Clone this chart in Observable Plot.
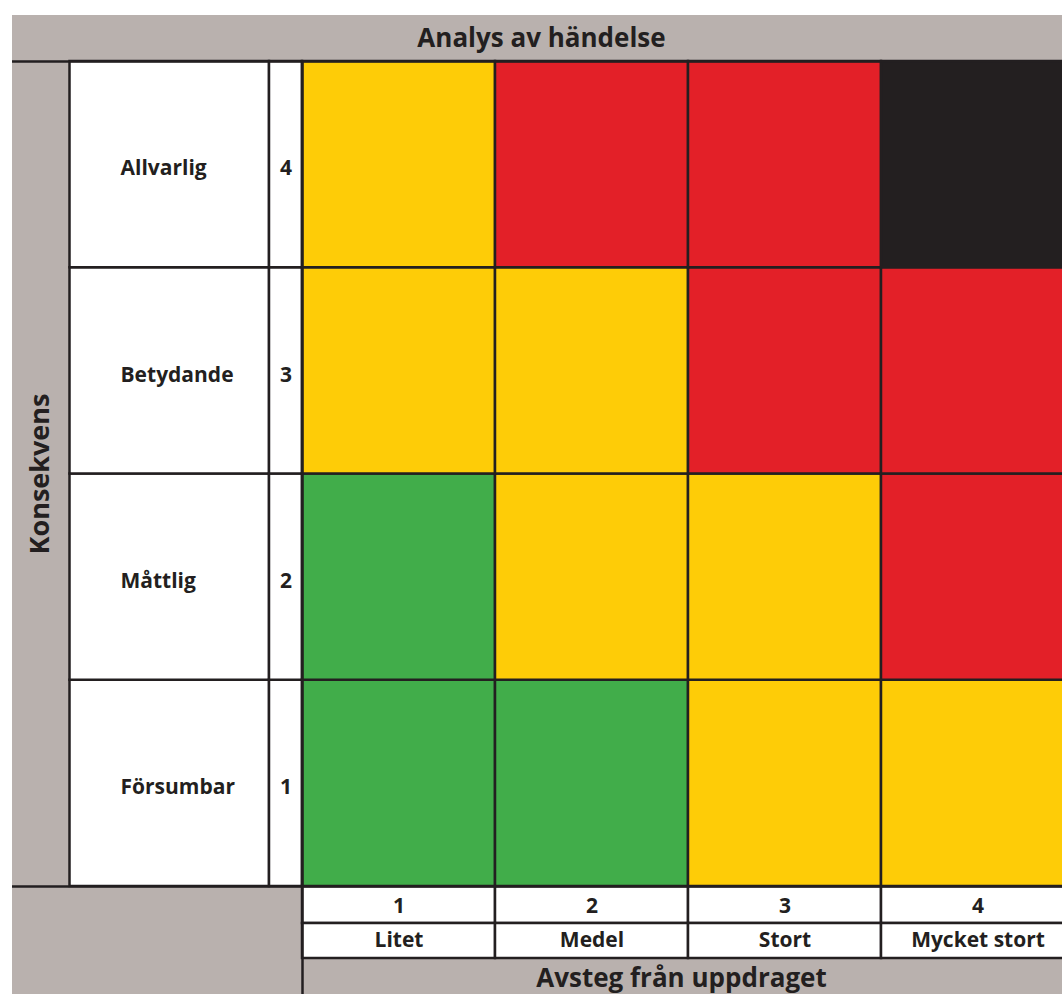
<!DOCTYPE html>
<html>
<head>
<meta charset="utf-8">
<script src="https://cdn.jsdelivr.net/npm/d3@7"></script>
<script src="https://cdn.jsdelivr.net/npm/@observablehq/plot@0.6"></script>
<style>
  html, body { margin: 0; padding: 0; background: #ffffff; overflow: hidden; }
  #chart svg { display: block; }
</style>
</head>
<body>
<div id="chart"></div>
<script>
// ---- Data ----
const chartTitle = "Analys av händelse";
const yTitle = "Konsekvens";
const xTitle = "Avsteg från uppdraget";
const consequenceLevels = [1, 2, 3, 4];
const consequenceLabels = ["Försumbar", "Måttlig", "Betydande", "Allvarlig"];
const deviationLevels = [1, 2, 3, 4];
const deviationLabels = ["Litet", "Medel", "Stort", "Mycket stort"];
// rows: consequence 1..4 (bottom to top); columns: deviation 1..4
const riskRow1 = ["Låg", "Låg", "Medel", "Medel"];
const riskRow2 = ["Låg", "Medel", "Medel", "Hög"];
const riskRow3 = ["Medel", "Medel", "Hög", "Hög"];
const riskRow4 = ["Medel", "Hög", "Hög", "Mycket hög"];
const riskLevels = ["Låg", "Medel", "Hög", "Mycket hög"];
const riskColors = ["#41ad4a", "#fecc07", "#e32028", "#231f20"];

// ---- Tables built from the arrays ----
const riskRows = [riskRow1, riskRow2, riskRow3, riskRow4];
const cells = [];
consequenceLevels.forEach((c, i) => deviationLevels.forEach((d, j) => cells.push({consequence: c, deviation: d, risk: riskRows[i][j]})));
const rows = consequenceLevels.map((c, i) => ({level: c, label: consequenceLabels[i]}));
const cols = deviationLevels.map((d, i) => ({level: d, label: deviationLabels[i]}));

// ---- Layout (pixels -> grid units) ----
const W = 1062, H = 994;
const GRID_LEFT = 302, CELL_W = 193;
const GRID_BOTTOM = 886, CELL_H = 206.25;
const ux = px => (px - GRID_LEFT) / CELL_W;
const uy = py => (GRID_BOTTOM - py) / CELL_H;

const GRAY = "#b9b1ae", INK = "#231f20", SW = 2.5;
const FONT = "'Open Sans', Lato, sans-serif";

const chart = Plot.plot({
  width: W,
  height: H,
  margin: 0,
  x: {type: "linear", domain: [ux(0), ux(W)], range: [0, W], axis: null},
  y: {type: "linear", domain: [uy(H), uy(0)], range: [H, 0], axis: null},
  color: {type: "ordinal", domain: riskLevels, range: riskColors},
  style: {background: "#ffffff", fontFamily: FONT},
  marks: [
    // gray backdrop
    Plot.rect([0], {x1: ux(12), x2: ux(W), y1: uy(H), y2: uy(15), fill: GRAY}),
    // row label boxes
    Plot.rect(rows, {x1: ux(69.5), x2: ux(269), y1: d => d.level - 1, y2: d => d.level, fill: "white", stroke: INK, strokeWidth: SW}),
    Plot.rect(rows, {x1: ux(269), x2: 0, y1: d => d.level - 1, y2: d => d.level, fill: "white", stroke: INK, strokeWidth: SW}),
    // column number / label boxes
    Plot.rect(cols, {x1: d => d.level - 1, x2: d => d.level, y1: uy(923), y2: 0, fill: "white", stroke: INK, strokeWidth: SW}),
    Plot.rect(cols, {x1: d => d.level - 1, x2: d => d.level, y1: uy(958), y2: uy(923), fill: "white", stroke: INK, strokeWidth: SW}),
    // risk cells
    Plot.rect(cells, {x1: d => d.deviation - 1, x2: d => d.deviation, y1: d => d.consequence - 1, y2: d => d.consequence, fill: "risk", stroke: INK, strokeWidth: SW}),
    // frame lines
    Plot.ruleY([consequenceLevels.length], {x1: ux(12), x2: ux(W), stroke: INK, strokeWidth: SW}),
    Plot.ruleY([0], {x1: ux(12), x2: ux(W), stroke: INK, strokeWidth: SW}),
    Plot.ruleX([0], {y1: uy(H), y2: consequenceLevels.length, stroke: INK, strokeWidth: SW}),
    // titles
    Plot.text([chartTitle], {text: d => d, x: ux(541), y: uy(38), fontSize: 26, fontWeight: 700, fill: INK}),
    Plot.text([yTitle], {text: d => d, x: ux(40), y: consequenceLevels.length / 2, rotate: -90, fontSize: 27, fontWeight: 700, fill: INK}),
    Plot.text([xTitle], {text: d => d, x: ux(681), y: uy(978), fontSize: 26, fontWeight: 700, fill: INK}),
    // row labels
    Plot.text(rows, {text: "label", x: ux(120), y: d => d.level - 0.5, dy: 4, textAnchor: "start", fontSize: 21, fontWeight: 700, fill: INK}),
    Plot.text(rows, {text: d => String(d.level), x: ux(285.5), y: d => d.level - 0.5, dy: 4, fontSize: 21, fontWeight: 700, fill: INK}),
    // column labels
    Plot.text(cols, {text: d => String(d.level), x: d => d.level - 0.5, y: uy(906), fontSize: 21, fontWeight: 700, fill: INK}),
    Plot.text(cols, {text: "label", x: d => d.level - 0.5, y: uy(940), fontSize: 21, fontWeight: 700, fill: INK})
  ]
});
document.getElementById("chart").append(chart);
</script>
</body>
</html>
